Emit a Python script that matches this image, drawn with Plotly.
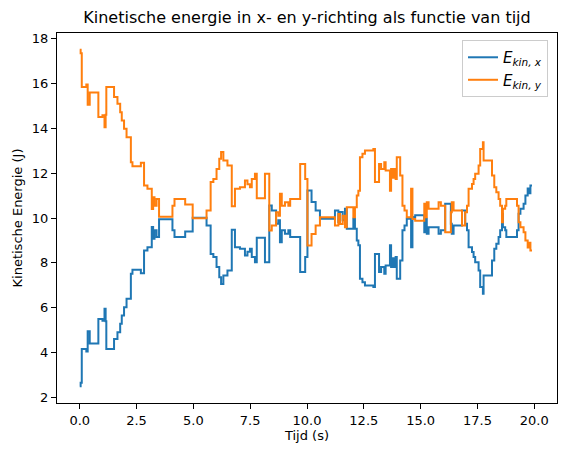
import plotly.graph_objects as go

# --- Data ---
tijd = [0.00, 0.04, 0.09, 0.29, 0.35, 0.44, 0.82, 1.00, 1.09, 1.14,
        1.17, 1.51, 1.66, 1.78, 1.85, 1.95, 2.06, 2.25, 2.32, 2.69,
        2.83, 2.98, 3.17, 3.23, 3.29, 3.38, 3.49, 4.08, 4.17, 4.64,
        4.97, 5.58, 5.76, 5.88, 6.02, 6.14, 6.22, 6.32, 6.50, 6.69,
        6.83, 7.05, 7.27, 7.38, 7.49, 7.57, 7.71, 7.79, 8.15, 8.34,
        8.45, 8.64, 8.74, 8.81, 8.89, 9.03, 9.18, 9.26, 9.70, 9.92,
        10.02, 10.20, 10.38, 10.57, 11.23, 11.38, 11.45, 11.57, 11.67, 11.75,
        12.04, 12.11, 12.19, 12.26, 12.33, 12.44, 12.55, 12.92, 12.99, 13.17,
        13.26, 13.40, 13.46, 13.65, 13.70, 13.76, 13.82, 13.90, 13.95, 14.10,
        14.20, 14.29, 14.39, 14.58, 14.64, 14.76, 15.16, 15.24, 15.27, 15.35,
        15.79, 15.89, 16.08, 16.33, 16.37, 16.45, 16.82, 16.96, 17.04, 17.11,
        17.26, 17.33, 17.40, 17.55, 17.62, 17.74, 17.77, 18.14, 18.24, 18.33,
        18.43, 18.50, 18.58, 18.62, 18.72, 18.77, 19.24, 19.31, 19.39, 19.53,
        19.61, 19.71, 19.78, 19.83, 19.90]

e_kin_x = [2.50, 2.65, 4.16, 4.05, 4.95, 4.40, 5.50, 5.42, 5.95, 5.40,
           4.16, 4.60, 4.90, 5.28, 5.65, 6.02, 6.40, 7.51, 7.69, 7.54,
           8.55, 8.70, 9.60, 9.08, 9.45, 9.15, 9.94, 9.45, 9.15, 9.40,
           10.01, 9.67, 8.40, 8.26, 7.81, 7.36, 7.06, 7.44, 7.66, 9.48,
           8.70, 8.63, 8.33, 8.50, 8.63, 8.26, 8.03, 9.12, 8.03, 10.56,
           10.34, 9.74, 9.90, 8.92, 9.45, 9.30, 9.45, 9.15, 7.59, 8.26,
           11.23, 10.71, 10.34, 9.97, 10.34, 9.82, 10.27, 9.90, 10.41, 9.52,
           9.97, 9.52, 9.00, 8.78, 7.29, 7.14, 6.99, 6.92, 8.40, 7.59,
           7.81, 7.51, 7.88, 8.78, 7.81, 8.20, 7.81, 8.26, 7.29, 8.10,
           9.45, 9.67, 9.97, 8.70, 10.05, 10.12, 9.37, 9.97, 9.30, 9.59,
           9.30, 9.45, 10.64, 9.74, 9.30, 9.67, 10.34, 9.74, 9.45, 8.70,
           8.48, 8.26, 8.03, 7.66, 6.92, 6.62, 7.44, 8.10, 8.63, 8.85,
           9.15, 9.45, 10.19, 9.59, 9.45, 9.15, 9.45, 10.19, 10.41, 10.64,
           11.00, 11.31, 11.10, 11.45, 11.45]

e_kin_y = [17.50, 17.35, 15.84, 15.95, 15.05, 15.60, 14.50, 14.58, 14.05, 14.60,
           15.84, 15.40, 15.10, 14.72, 14.35, 13.98, 13.60, 12.49, 12.31, 12.46,
           11.45, 11.30, 10.40, 10.92, 10.55, 10.85, 10.06, 10.55, 10.85, 10.60,
           9.99, 10.33, 11.60, 11.74, 12.19, 12.64, 12.94, 12.56, 12.34, 10.52,
           11.30, 11.37, 11.67, 11.50, 11.37, 11.74, 11.97, 10.88, 11.97, 9.44,
           9.66, 10.26, 10.10, 11.08, 10.55, 10.70, 10.55, 10.85, 12.41, 11.74,
           8.77, 9.29, 9.66, 10.03, 9.66, 10.18, 9.73, 10.10, 9.59, 10.48,
           10.03, 10.48, 11.00, 11.22, 12.71, 12.86, 13.01, 13.08, 11.60, 12.41,
           12.19, 12.49, 12.12, 11.22, 12.19, 11.80, 12.19, 11.74, 12.71, 11.90,
           10.55, 10.33, 10.03, 11.30, 9.95, 9.88, 10.63, 10.03, 10.70, 10.41,
           10.70, 10.55, 9.36, 10.26, 10.70, 10.33, 9.66, 10.26, 10.55, 11.30,
           11.52, 11.74, 11.97, 12.34, 13.08, 13.38, 12.56, 11.90, 11.37, 11.15,
           10.85, 10.55, 9.81, 10.41, 10.55, 10.85, 10.55, 9.81, 9.59, 9.36,
           9.00, 8.69, 8.90, 8.55, 8.55]

x_ticks = [0, 2.5, 5, 7.5, 10, 12.5, 15, 17.5, 20]
y_ticks = [2, 4, 6, 8, 10, 12, 14, 16, 18]

fig = go.Figure()
fig.add_trace(go.Scatter(x=tijd, y=e_kin_x, mode="lines", line_shape="hv",
                         line=dict(color="#1f77b4", width=2),
                         name="<i>E</i><sub><i>kin, x</i></sub>"))
fig.add_trace(go.Scatter(x=tijd, y=e_kin_y, mode="lines", line_shape="hv",
                         line=dict(color="#ff7f0e", width=2),
                         name="<i>E</i><sub><i>kin, y</i></sub>"))

as_axis = dict(showline=True, linecolor="black", linewidth=1, mirror=True,
               ticks="outside", ticklen=5, tickcolor="black", showgrid=False,
               zeroline=False, automargin=False,
               tickfont=dict(size=13, color="black"))

fig.update_layout(
    width=563, height=455,
    margin=dict(l=57, r=6, t=33, b=52),
    plot_bgcolor="white", paper_bgcolor="white",
    font=dict(family="DejaVu Sans", size=13, color="black"),
    title=dict(text="Kinetische energie in x- en y-richting als functie van tijd",
               x=0.5, xref="paper", xanchor="center",
               y=1 - 17 / 455, yref="container", yanchor="middle",
               font=dict(size=16, color="black")),
    xaxis=dict(range=[-1, 21], tickvals=x_ticks, tickformat=".1f",
               title=dict(text="Tijd (s)", standoff=4, font=dict(size=13)), **as_axis),
    yaxis=dict(range=[1.75, 18.25], tickvals=y_ticks,
               title=dict(text="Kinetische Energie (J)", standoff=6, font=dict(size=13)), **as_axis),
    legend=dict(x=0.982, y=0.981, xanchor="right", yanchor="top",
                bgcolor="white", bordercolor="#cccccc", borderwidth=1,
                font=dict(size=15), tracegroupgap=2, itemwidth=30),
    showlegend=True,
)

# body margin weg, zodat de figuur links boven in het venster staat
fig.write_html("out.html", config={"displayModeBar": False},
               post_script="document.body.style.margin='0';")
